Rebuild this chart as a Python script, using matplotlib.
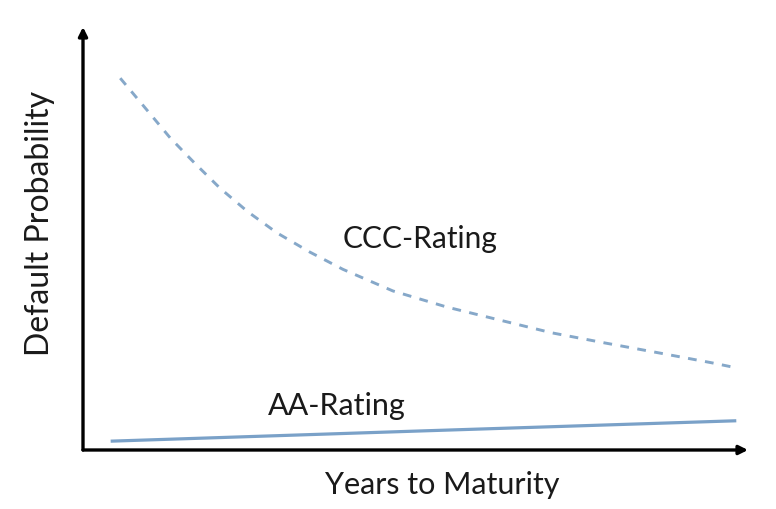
import matplotlib
matplotlib.use('Agg')
import matplotlib.pyplot as plt

# CCC curve, years vs default probability
ccc_years = [0.56, 0.96, 1.31, 1.68, 2.06, 2.48, 2.92, 3.41, 3.91, 4.66,
             5.47, 6.27, 7.05, 7.85, 8.68, 9.46, 9.77]
ccc_prob = [0.879, 0.804, 0.738, 0.678, 0.619, 0.563, 0.513, 0.468, 0.427,
            0.376, 0.338, 0.307, 0.277, 0.253, 0.229, 0.206, 0.196]

# AA line
aa_years = [0.44, 5.07, 9.80]
aa_prob = [0.021, 0.045, 0.069]

plt.rcParams['font.family'] = ['Lato', 'DejaVu Sans']

fig = plt.figure(figsize=(7.76, 5.09), dpi=100)
W, H = 776, 509
ax = fig.add_axes([83 / W, 59 / H, (748 - 83) / W, (450 - 27) / H])
ax.set_xlim(0, 10)
ax.set_ylim(0, 1)

ax.plot(ccc_years, ccc_prob, color='#86a8c9', lw=2.1,
        linestyle=(0, (3.0, 2.9)), solid_capstyle='butt')
ax.plot(aa_years, aa_prob, color='#7aa1c8', lw=2.3)

ax.text(5.07, 0.478, 'CCC-Rating', ha='center', va='baseline',
        fontsize=21.5, color='#1a1a1a')
ax.text(3.82, 0.083, 'AA-Rating', ha='center', va='baseline',
        fontsize=22, color='#1a1a1a')

for s in ax.spines.values():
    s.set_visible(False)
ax.set_xticks([])
ax.set_yticks([])

arrow = dict(arrowstyle='-|>', lw=2.4, color='black', mutation_scale=13,
             shrinkA=0, shrinkB=0)
ax.annotate('', xy=(1, 0), xytext=(0, 0), xycoords='axes fraction',
            arrowprops=arrow, annotation_clip=False)
ax.annotate('', xy=(0, 1), xytext=(0, 0), xycoords='axes fraction',
            arrowprops=arrow, annotation_clip=False)

fig.text(442 / W, 1 - 485 / H, 'Years to Maturity', ha='center', va='center',
         fontsize=22, color='#1a1a1a')
fig.text(40 / W, 1 - 223 / H, 'Default Probability', ha='center',
         va='center', rotation=90, fontsize=23, color='#1a1a1a')

fig.savefig('out.png', dpi=100)
